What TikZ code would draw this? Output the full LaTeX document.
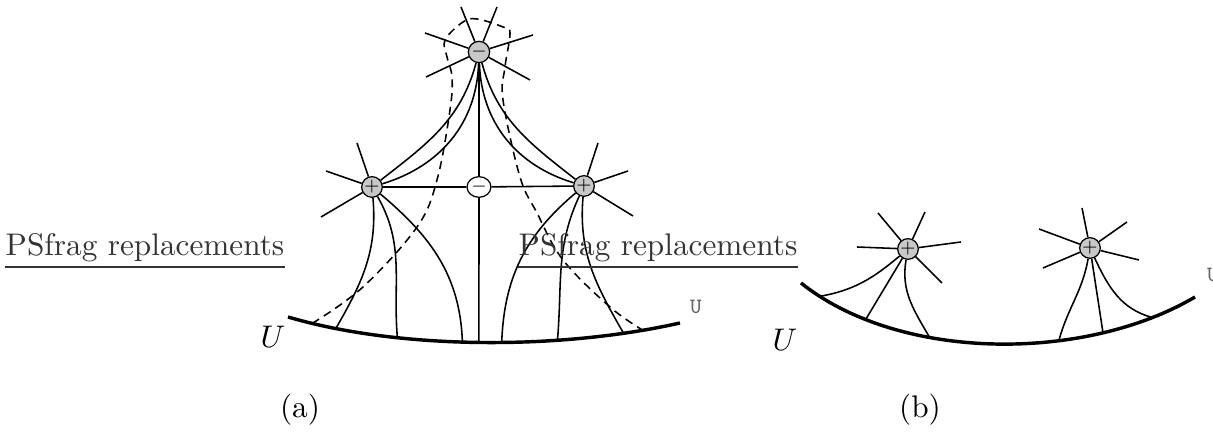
\documentclass[tikz,border=0pt]{standalone}
\usepackage{tikz}
\usetikzlibrary{shapes.geometric}
\definecolor{chargeGray}{HTML}{C8C8C8}
\tikzset{
  charge/.style={circle,draw,fill=chargeGray,inner sep=0pt,minimum size=6.5pt,font=\tiny},
  hole/.style={ellipse,draw,fill=white,inner sep=0pt,minimum width=7.6pt,minimum height=6.6pt,font=\tiny},
  fieldline/.style={line width=0.5pt},
  boundary/.style={line width=1.1pt},
  psfrag/.style={inner sep=0pt,text=black!80},
}

\begin{document}
\begin{tikzpicture}[x=0.32pt,y=0.32pt]
\useasboundingbox (0,0) rectangle (1213,434);

% (a)
\node[charge] (tm) at (479,382) {$-$};
\node[charge] (lp) at (372,247) {$+$};
\node[hole]   (mm) at (479,247) {$-$};
\node[charge] (rp) at (584,248) {$+$};

\draw[boundary] (288,117) .. controls (400,84) and (560,84) .. (680,111)
  coordinate[pos=0.07] (a0) coordinate[pos=0.135] (a1) coordinate[pos=0.295] (a2)
  coordinate[pos=0.455] (a3) coordinate[pos=0.495] (a4) coordinate[pos=0.55] (a5)
  coordinate[pos=0.685] (a6) coordinate[pos=0.85] (a7) coordinate[pos=0.9] (a8);

\foreach \x/\y in {461/427,497/427,425/401,533/399,426/357,530/354}
  \draw[fieldline] (tm) -- (\x,\y);
\foreach \x/\y in {357/291,326/263,321/217}
  \draw[fieldline] (lp) -- (\x,\y);
\foreach \x/\y in {598/291,628/263,633/218}
  \draw[fieldline] (rp) -- (\x,\y);

\draw[fieldline] (tm) to[out=-105,in=38] (lp);
\draw[fieldline] (tm) to[out=-92,in=17] (lp);
\draw[fieldline] (tm) to[out=-75,in=142] (rp);
\draw[fieldline] (tm) to[out=-88,in=163] (rp);
\draw[fieldline] (tm) -- (mm) -- (a4);
\draw[fieldline] (lp) -- (mm) -- (rp);

\draw[fieldline] (lp) to[out=-85,in=60] (a1);
\draw[fieldline] (lp) to[out=-60,in=95] (a2);
\draw[fieldline] (lp) to[out=-40,in=92] (a3);
\draw[fieldline] (rp) to[out=-140,in=88] (a5);
\draw[fieldline] (rp) to[out=-115,in=85] (a6);
\draw[fieldline] (rp) to[out=-95,in=120] (a7);

\draw[fieldline,dash pattern=on 2.6pt off 1.8pt] plot[smooth,tension=0.6] coordinates {
  (a0) (363,147) (417,207) (437,254) (450,324) (452,357) (447,377) (445,394)
  (463,412) (477,415) (503,407) (510,401) (505,367) (503,334) (520,257)
  (537,221) (563,174) (610,127) (a8)};

\node (ua) at (273,97) {$U$};
\node[font=\scriptsize\ttfamily,text=black!60] (ta) at (696,127) {U};
\node (la) at (300,24) {(a)};

% (b)
\node[charge] (blp) at (908,185) {$+$};
\node[charge] (brp) at (1090,186) {$+$};

\draw[boundary] (801,151) .. controls (900,72) and (1085,72) .. (1195,137)
  coordinate[pos=0.06] (b0) coordinate[pos=0.19] (b1) coordinate[pos=0.35] (b2)
  coordinate[pos=0.65] (b3) coordinate[pos=0.755] (b4) coordinate[pos=0.88] (b5);

\foreach \x/\y in {878/221,925/222,857/187,961/192,942/151}
  \draw[fieldline] (blp) -- (\x,\y);
\foreach \x/\y in {1082/226,1127/212,1039/205,1139/174,1043/166}
  \draw[fieldline] (brp) -- (\x,\y);

\draw[fieldline] (blp) to[out=-140,in=10] (b0);
\draw[fieldline] (blp) -- (b1);
\draw[fieldline] (blp) to[out=-100,in=120] (b2);
\draw[fieldline] (brp) to[out=-100,in=75] (b3);
\draw[fieldline] (brp) -- (b4);
\draw[fieldline] (brp) to[out=-65,in=165] (b5);

\node (ub) at (785,94) {$U$};
\node[font=\scriptsize\ttfamily,text=black!60] (tb) at (1213,159) {U};
\node (lb) at (920,24) {(b)};

% psfrag leftovers
\node[psfrag,anchor=base] (psa) at (145,178) {PSfrag replacements};
\draw[black!80,line width=0.4pt] ([yshift=-3.5pt]psa.base west) -- ([yshift=-3.5pt]psa.base east);
\node[psfrag,anchor=base] (psb) at (658,178) {PSfrag replacements};
\draw[black!80,line width=0.4pt] ([yshift=-3.5pt]psb.base west) -- ([yshift=-3.5pt]psb.base east);
\end{tikzpicture}
\end{document}
